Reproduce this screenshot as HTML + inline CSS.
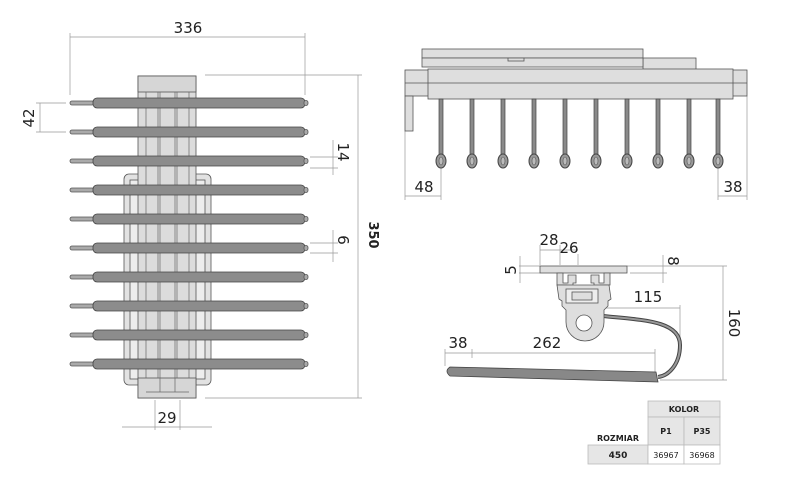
<!DOCTYPE html>
<html><head><meta charset="utf-8"><style>
body{margin:0;background:#fff}
svg{display:block;font-family:"DejaVu Sans","Liberation Sans",sans-serif}
</style></head><body>
<svg width="800" height="484" viewBox="0 0 800 484" xmlns="http://www.w3.org/2000/svg">
<defs>
<g id="rod">
<rect x="70" y="-2" width="24" height="4" rx="2" fill="#aaa" stroke="#555" stroke-width="0.8"/>
<rect x="93" y="-5" width="212" height="10" rx="4" fill="#8c8c8c" stroke="#444" stroke-width="0.8"/>
<rect x="304" y="-2.5" width="4" height="5" rx="2" fill="#aaa" stroke="#555" stroke-width="0.8"/>
</g>
<g id="hook">
<rect x="-2" y="99" width="4" height="62" fill="#8a8a8a" stroke="#444" stroke-width="0.7"/>
<ellipse cx="0" cy="161" rx="5" ry="7" fill="#999" stroke="#444" stroke-width="1"/>
<ellipse cx="0" cy="161" rx="2" ry="4" fill="#bbb" stroke="#555" stroke-width="0.6"/>
</g>
</defs>
<g stroke="#999" stroke-width="0.7" fill="none">
<line x1="70" y1="37" x2="305" y2="37"/><line x1="70" y1="33" x2="70" y2="95"/><line x1="305" y1="33" x2="305" y2="95"/>
<line x1="36" y1="103" x2="66" y2="103"/><line x1="36" y1="132" x2="66" y2="132"/><line x1="40" y1="103" x2="40" y2="132"/>
<line x1="310" y1="157" x2="338" y2="157"/><line x1="310" y1="168" x2="338" y2="168"/><line x1="333" y1="140" x2="333" y2="175"/>
<line x1="310" y1="243" x2="338" y2="243"/><line x1="310" y1="253" x2="338" y2="253"/><line x1="333" y1="230" x2="333" y2="262"/>
<line x1="205" y1="75" x2="362" y2="75"/><line x1="205" y1="398" x2="362" y2="398"/><line x1="358" y1="75" x2="358" y2="398"/>
<line x1="122" y1="427" x2="212" y2="427"/><line x1="155" y1="400" x2="155" y2="430"/><line x1="180" y1="400" x2="180" y2="430"/>
<line x1="405" y1="131" x2="405" y2="200"/><line x1="441" y1="168" x2="441" y2="200"/><line x1="405" y1="196" x2="441" y2="196"/>
<line x1="747" y1="96" x2="747" y2="200"/><line x1="718" y1="168" x2="718" y2="200"/><line x1="718" y1="196" x2="747" y2="196"/>
<line x1="540" y1="250" x2="578" y2="250"/><line x1="540" y1="245" x2="540" y2="265"/><line x1="560" y1="245" x2="560" y2="265"/><line x1="578" y1="254" x2="578" y2="265"/>
<line x1="519" y1="266" x2="540" y2="266"/><line x1="519" y1="273" x2="540" y2="273"/><line x1="520" y1="256" x2="520" y2="283"/>
<line x1="627" y1="266" x2="727" y2="266"/><line x1="630" y1="273" x2="667" y2="273"/><line x1="663" y1="255" x2="663" y2="283"/>
<line x1="723" y1="266" x2="723" y2="380"/><line x1="660" y1="380" x2="727" y2="380"/>
<line x1="603" y1="308" x2="680" y2="308"/><line x1="680" y1="305" x2="680" y2="345"/>
<line x1="445" y1="353" x2="655" y2="353"/><line x1="445" y1="349" x2="445" y2="366"/><line x1="472" y1="349" x2="472" y2="358"/><line x1="655" y1="349" x2="655" y2="372"/>
</g>
<g stroke="#555" stroke-width="0.8">
<rect x="124" y="174" width="87" height="211" rx="5" fill="#e2e2e2"/>
<rect x="130" y="180" width="75" height="199" fill="#ededed"/>
<rect x="138" y="76" width="58" height="322" fill="#dcdcdc"/>
<rect x="138" y="76" width="58" height="16" fill="#d6d6d6"/>
<rect x="138" y="378" width="58" height="20" fill="#d6d6d6"/>
</g>
<g stroke="#666" stroke-width="0.7">
<line x1="146" y1="92" x2="146" y2="378"/><line x1="158" y1="92" x2="158" y2="378"/><line x1="160" y1="92" x2="160" y2="392"/>
<line x1="175" y1="92" x2="175" y2="392"/><line x1="177" y1="92" x2="177" y2="378"/><line x1="189" y1="92" x2="189" y2="378"/>
<line x1="146" y1="392" x2="189" y2="392"/>
</g>
<use href="#rod" y="103"/><use href="#rod" y="132"/><use href="#rod" y="161"/><use href="#rod" y="190"/><use href="#rod" y="219"/>
<use href="#rod" y="248"/><use href="#rod" y="277"/><use href="#rod" y="306"/><use href="#rod" y="335"/><use href="#rod" y="364"/>
<g stroke="#555" stroke-width="0.8" fill="#dedede">
<rect x="422" y="49" width="221" height="9"/>
<rect x="643" y="58" width="53" height="12"/>
<rect x="422" y="58" width="221" height="9"/>
<rect x="508" y="58" width="16" height="3"/>
<rect x="405" y="70" width="342" height="26"/>
<line x1="405" y1="83" x2="747" y2="83"/>
<rect x="428" y="69" width="305" height="30"/>
<line x1="428" y1="83" x2="733" y2="83"/>
<rect x="405" y="96" width="8" height="35"/>
</g>
<use href="#hook" x="441"/><use href="#hook" x="472"/><use href="#hook" x="503"/><use href="#hook" x="534"/><use href="#hook" x="565"/>
<use href="#hook" x="596"/><use href="#hook" x="627"/><use href="#hook" x="658"/><use href="#hook" x="689"/><use href="#hook" x="718"/>
<g stroke="#555" stroke-width="0.8" fill="#dedede">
<path d="M603 316 C640 320 680 320 680 345 C680 365 668 376 658 377" fill="none" stroke="#444" stroke-width="4"/>
<path d="M603 316 C640 320 680 320 680 345 C680 365 668 376 658 377" fill="none" stroke="#999" stroke-width="2"/>
<rect x="540" y="266" width="87" height="7"/>
<path d="M557 273h6v10h5v-8h8v8h-3v6h-6v-4h-10z"/>
<path d="M610 273h-6v10h-5v-8h-8v8h3v6h6v-4h10z"/>
<path d="M557 285h52l2 14-3 2v5l-4 4v12 a19 19 0 0 1 -38 0 v-12l-4-4v-5l-3-2z"/>
<rect x="566" y="289" width="32" height="14" fill="#eee"/>
<rect x="572" y="292" width="20" height="8"/>
<circle cx="584" cy="323" r="8" fill="#fff"/>
<path d="M450 367 L656 372 L658 382 L450 376 Q444 371 450 367z" fill="#888" stroke="#444"/>
</g>
<g fill="#222" font-size="15">
<text x="188" y="33" text-anchor="middle">336</text>
<text x="167" y="423" text-anchor="middle">29</text>
<text x="424" y="192" text-anchor="middle">48</text>
<text x="733" y="192" text-anchor="middle">38</text>
<text x="549" y="245" text-anchor="middle">28</text>
<text x="569" y="253" text-anchor="middle">26</text>
<text x="648" y="302" text-anchor="middle">115</text>
<text x="547" y="348" text-anchor="middle">262</text>
<text x="458" y="348" text-anchor="middle">38</text>
<text transform="translate(34,118) rotate(-90)" text-anchor="middle">42</text>
<text transform="translate(516,270) rotate(-90)" text-anchor="middle">5</text>
<text transform="translate(338,152) rotate(90)" text-anchor="middle">14</text>
<text transform="translate(338,240) rotate(90)" text-anchor="middle">6</text>
<text transform="translate(668,261) rotate(90)" text-anchor="middle">8</text>
<text transform="translate(729,323) rotate(90)" text-anchor="middle">160</text>
<text transform="translate(369,235) rotate(90)" text-anchor="middle" font-weight="bold" font-size="13">350</text>
</g>
<g stroke="#bbb" stroke-width="0.8">
<rect x="648" y="401" width="72" height="16" fill="#e6e6e6"/>
<rect x="648" y="417" width="36" height="28" fill="#e6e6e6"/>
<rect x="684" y="417" width="36" height="28" fill="#e6e6e6"/>
<rect x="588" y="445" width="60" height="19" fill="#e6e6e6"/>
<rect x="648" y="445" width="36" height="19" fill="#fff"/>
<rect x="684" y="445" width="36" height="19" fill="#fff"/>
</g>
<g font-size="8" fill="#222" text-anchor="middle" font-weight="bold">
<text x="684" y="412">KOLOR</text>
<text x="666" y="434">P1</text>
<text x="702" y="434">P35</text>
<text x="618" y="441">ROZMIAR</text>
<text x="618" y="458" font-size="9">450</text>
<text x="666" y="458" font-weight="normal">36967</text>
<text x="702" y="458" font-weight="normal">36968</text>
</g>
</svg>
</body></html>
